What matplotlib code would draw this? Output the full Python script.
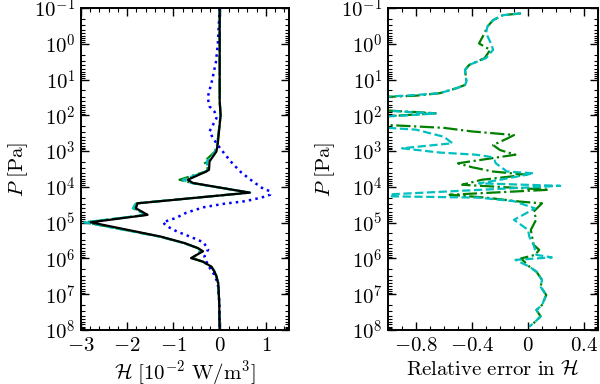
'''
imports
'''
import numpy as np
import matplotlib
matplotlib.use('Agg')
import matplotlib.pyplot as plt
from matplotlib.ticker import FuncFormatter, MultipleLocator, FixedLocator, LogLocator, NullFormatter

plt.rcParams['mathtext.fontset'] = 'cm'
plt.rcParams['font.family'] = 'serif'

'''
Dados lidos do grafico (expoente de P em Pa)
'''

# Painel esquerdo: perfil de aquecimento H [1e-2 W/m3]
logp_ref = [-1.0, 1.6, 2.0, 2.78, 3.01, 3.29, 3.52, 3.57, 3.80, 3.89, 4.16, 4.46, 4.60, 4.78,
            4.99, 5.39, 5.57, 5.71, 5.80, 5.99, 6.09, 6.23, 6.35, 6.50, 6.70, 7.24, 8.0]
h_ref = [0.0, 0.0, 0.02, -0.04, -0.07, -0.22, -0.23, -0.29, -0.69, -0.58, 0.65, -1.78, -1.81, -1.56,
         -2.79, -1.27, -0.76, -0.47, -0.36, -0.62, -0.36, -0.18, -0.12, -0.07, -0.03, -0.01, 0.0]
h_cyan = [0.0, 0.0, 0.02, -0.05, -0.09, -0.28, -0.26, -0.30, -0.80, -0.62, 0.66, -1.82, -1.88, -1.58,
          -2.93, -1.30, -0.78, -0.48, -0.40, -0.60, -0.37, -0.18, -0.12, -0.07, -0.03, -0.01, 0.0]
h_green = [0.0, 0.0, 0.02, -0.05, -0.10, -0.33, -0.25, -0.30, -0.87, -0.60, 0.64, -1.80, -1.85, -1.57,
           -2.90, -1.29, -0.77, -0.48, -0.42, -0.58, -0.37, -0.18, -0.12, -0.07, -0.03, -0.01, 0.0]

logp_blue = [-1.0, -0.5, 0.0, 0.5, 1.0, 1.5, 1.75, 1.9, 2.08, 2.3, 2.45, 2.65, 2.85, 3.1, 3.35, 3.6,
             3.85, 4.05, 4.12, 4.22, 4.3, 4.4, 4.47, 4.57, 4.72, 4.87, 4.99, 5.1, 5.25, 5.4, 5.55,
             5.75, 5.95, 6.2, 6.4, 6.6, 6.8, 7.2, 8.0]
h_blue = [0.0, -0.02, -0.04, -0.08, -0.16, -0.26, -0.22, -0.11, -0.07, -0.16, -0.22, -0.14, -0.03, 0.12,
          0.28, 0.47, 0.72, 0.94, 1.09, 1.09, 0.90, 0.55, 0.10, -0.35, -0.72, -0.95, -1.23, -1.14,
          -0.92, -0.62, -0.35, -0.25, -0.33, -0.25, -0.14, -0.07, -0.03, -0.01, 0.0]

# Painel direito: erro relativo em H
logp_err_c = [-0.85, -0.8, -0.66, -0.48, -0.3, 0.03, 0.17, 0.4, 0.59, 0.73, 1.06, 1.15, 1.24, 1.38,
              1.43, 1.5, 1.8, 1.95, 2.1, 2.3, 2.4, 2.6, 2.78, 2.92, 3.04, 3.1, 3.16, 3.25, 3.34, 3.57,
              3.62, 3.8, 3.9, 3.97, 4.25, 4.3, 4.4, 4.6, 4.92, 5.2, 5.4, 5.62, 5.9, 5.97, 6.04, 6.23,
              6.37, 6.6, 6.79, 7.02, 7.3, 7.44, 7.62, 7.81, 7.9]
err_c = [-0.05, -0.18, -0.25, -0.29, -0.30, -0.26, -0.25, -0.30, -0.42, -0.45, -0.44, -0.45, -0.51, -0.63,
         -0.80, -1.10, -1.30, -0.66, -1.30, -1.20, -0.80, -0.60, -0.54, -0.90, -0.63, -0.37, -0.27, -0.24,
         -0.23, -0.15, 0.04, -0.20, -0.35, 0.23, -1.20, -0.35, -0.10, 0.05, -0.10, 0.0, 0.01, 0.04, 0.06,
         0.17, -0.09, 0.01, 0.06, 0.10, 0.09, 0.13, 0.10, 0.06, 0.09, 0.04, 0.01]

logp_err_g = [-0.85, -0.8, -0.66, -0.48, -0.3, -0.01, 0.17, 0.4, 0.59, 0.73, 1.06, 1.15, 1.24, 1.38,
              1.45, 1.5, 1.8, 1.94, 2.1, 2.25, 2.35, 2.45, 2.55, 2.65, 2.83, 2.97, 3.1, 3.34, 3.45, 3.57,
              3.66, 3.8, 3.94, 4.08, 4.22, 4.3, 4.41, 4.46, 4.69, 4.9, 5.2, 5.62, 5.76, 5.9, 6.0, 6.23,
              6.37, 6.6, 6.79, 7.02, 7.3, 7.44, 7.62, 7.81, 7.9]
err_g = [-0.05, -0.18, -0.25, -0.29, -0.31, -0.35, -0.27, -0.31, -0.42, -0.45, -0.44, -0.45, -0.51, -0.63,
         -0.80, -1.10, -1.30, -0.66, -1.30, -1.10, -0.60, -0.40, -0.10, -0.15, -0.25, -0.20, -0.09, -0.50,
         -0.40, -0.25, -0.01, -0.33, -0.47, 0.15, -0.56, -0.30, -0.06, 0.10, 0.04, 0.06, 0.02, 0.04, 0.08,
         0.05, -0.05, 0.01, 0.06, 0.10, 0.09, 0.13, 0.10, 0.06, 0.09, 0.04, 0.01]

'''
Grafico
'''
fig = plt.figure(figsize=(6.0, 3.84), dpi=100)
ax1 = fig.add_axes([0.135, 0.1406, 0.3467, 0.8385])
ax2 = fig.add_axes([0.6467, 0.1406, 0.35, 0.8385])

p = lambda lp: 10.0 ** np.array(lp)

ax1.plot(h_green, p(logp_ref), color='g', ls='-.', lw=1.6)
ax1.plot(h_cyan, p(logp_ref), color='c', ls='--', lw=1.6)
ax1.plot(h_blue, p(logp_blue), color='b', ls=':', lw=1.8)
ax1.plot(h_ref, p(logp_ref), color='k', ls='-', lw=1.6)

ax2.plot(err_g, p(logp_err_g), color='g', ls='-.', lw=1.6)
ax2.plot(err_c, p(logp_err_c), color='c', ls='--', lw=1.6)

ax1.set_xlim(-3, 1.5)
ax1.xaxis.set_major_locator(MultipleLocator(1))
ax1.xaxis.set_minor_locator(MultipleLocator(0.2))
ax2.set_xlim(-1.0, 0.5)
ax2.xaxis.set_major_locator(FixedLocator([-0.8, -0.4, 0.0, 0.4]))
ax2.xaxis.set_minor_locator(MultipleLocator(0.1))

for ax in (ax1, ax2):
    ax.set_yscale('log')
    ax.set_ylim(1e8, 1e-1)
    ax.yaxis.set_major_locator(LogLocator(base=10, numticks=20))
    ax.yaxis.set_minor_locator(LogLocator(base=10, subs=np.arange(2, 10), numticks=20))
    ax.yaxis.set_minor_formatter(NullFormatter())
    ax.yaxis.set_major_formatter(FuncFormatter(lambda v, pos: r'$10^{%d}$' % round(np.log10(v))))
    ax.xaxis.set_major_formatter(FuncFormatter(lambda v, pos: r'$%g$' % (round(v, 3) + 0.0)))
    ax.tick_params(which='both', direction='in', top=True, right=True, labelsize=15)
    ax.tick_params(which='major', length=6, width=1.0, pad=4)
    ax.tick_params(which='minor', length=3, width=0.8)
    for s in ax.spines.values():
        s.set_linewidth(1.4)
    ax.set_ylabel(r'$P\ \mathrm{[Pa]}$', fontsize=15, labelpad=3)

ax1.set_xlabel(r'$\mathcal{H}\ [10^{-2}\ \mathrm{W/m^3}]$', fontsize=15, labelpad=3)
ax2.set_xlabel(r'$\mathrm{Relative\ error\ in}\ \mathcal{H}$', fontsize=15, labelpad=3)

plt.savefig('out.png', dpi=100)
